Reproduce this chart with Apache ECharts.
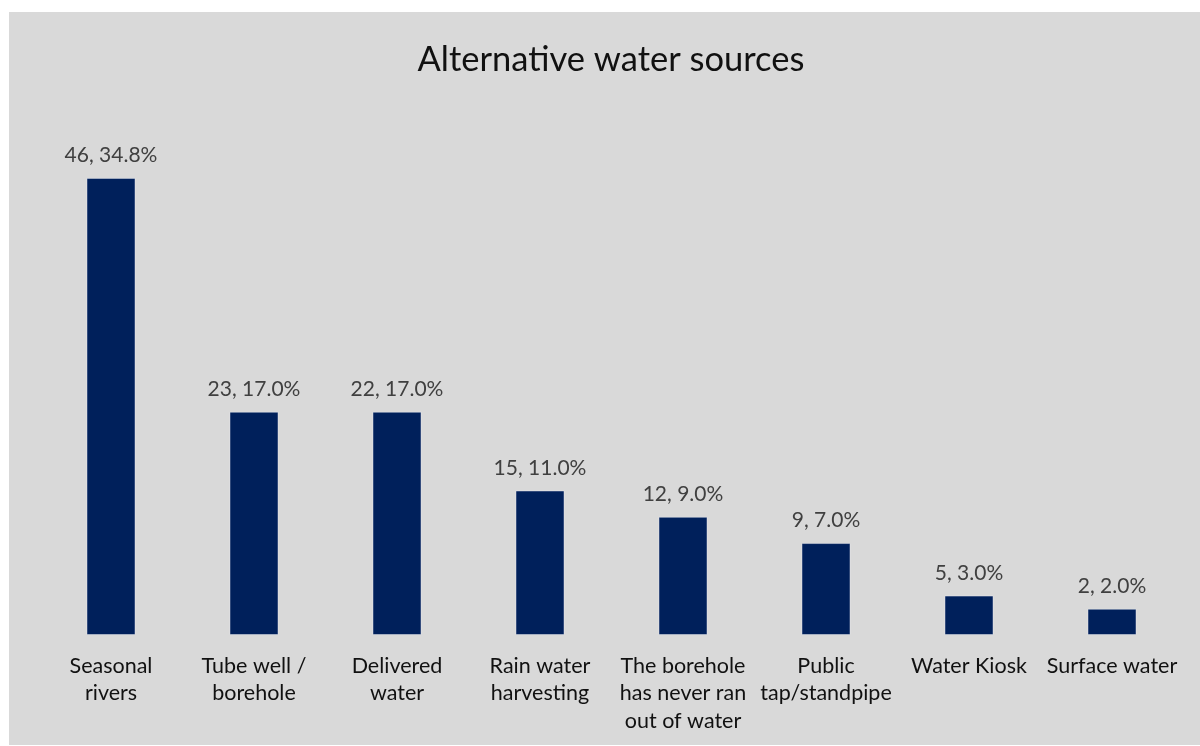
<!DOCTYPE html>
<html>
<head>
<meta charset="utf-8">
<script src="https://cdn.jsdelivr.net/npm/echarts@6/dist/echarts.min.js"></script>
<style>
  html, body { margin: 0; padding: 0; background: #ffffff; }
  #chart { position: absolute; left: 9px; top: 12px; width: 1191px; height: 733px; background: #d9d9d9; }
</style>
</head>
<body>
<div id="chart"></div>
<script>
// Alternative water sources: respondent counts and shares
const categories = [
  'Seasonal\nrivers',
  'Tube well /\nborehole',
  'Delivered\nwater',
  'Rain water\nharvesting',
  'The borehole\nhas never ran\nout of water',
  'Public\ntap/standpipe',
  'Water Kiosk',
  'Surface water'
];
const counts = [46, 23, 22, 15, 12, 9, 5, 2];
const percents = [34.8, 17.0, 17.0, 11.0, 9.0, 7.0, 3.0, 2.0];

const chart = echarts.init(document.getElementById('chart'), null, { renderer: 'canvas' });

chart.setOption({
  backgroundColor: '#d9d9d9',
  animation: false,
  title: {
    text: 'Alternative water sources',
    left: 597,
    textAlign: 'center',
    top: 25,
    textStyle: { fontFamily: 'Lato', fontWeight: 'normal', fontSize: 34.5, color: '#111111' }
  },
  grid: { left: 30.5, right: 16.5, top: 97.6, bottom: 110, containLabel: false },
  xAxis: {
    type: 'category',
    data: categories,
    axisLine: { show: false },
    axisTick: { show: false },
    axisLabel: {
      interval: 0,
      margin: 17,
      fontFamily: 'Lato',
      fontSize: 21.5,
      lineHeight: 27.5,
      color: '#111111',
      align: 'center'
    }
  },
  yAxis: {
    type: 'value',
    min: 0,
    max: 40,
    show: false,
    splitLine: { show: false }
  },
  series: [{
    type: 'bar',
    data: percents,
    barWidth: 49,
    itemStyle: { color: '#00205b', borderColor: 'rgba(235,238,245,0.45)', borderWidth: 1 },
    label: {
      show: true,
      position: 'top',
      distance: 12,
      fontFamily: 'Lato',
      fontSize: 21,
      color: '#404040',
      formatter: p => counts[p.dataIndex] + ', ' + percents[p.dataIndex].toFixed(1) + '%'
    }
  }]
});
</script>
</body>
</html>
